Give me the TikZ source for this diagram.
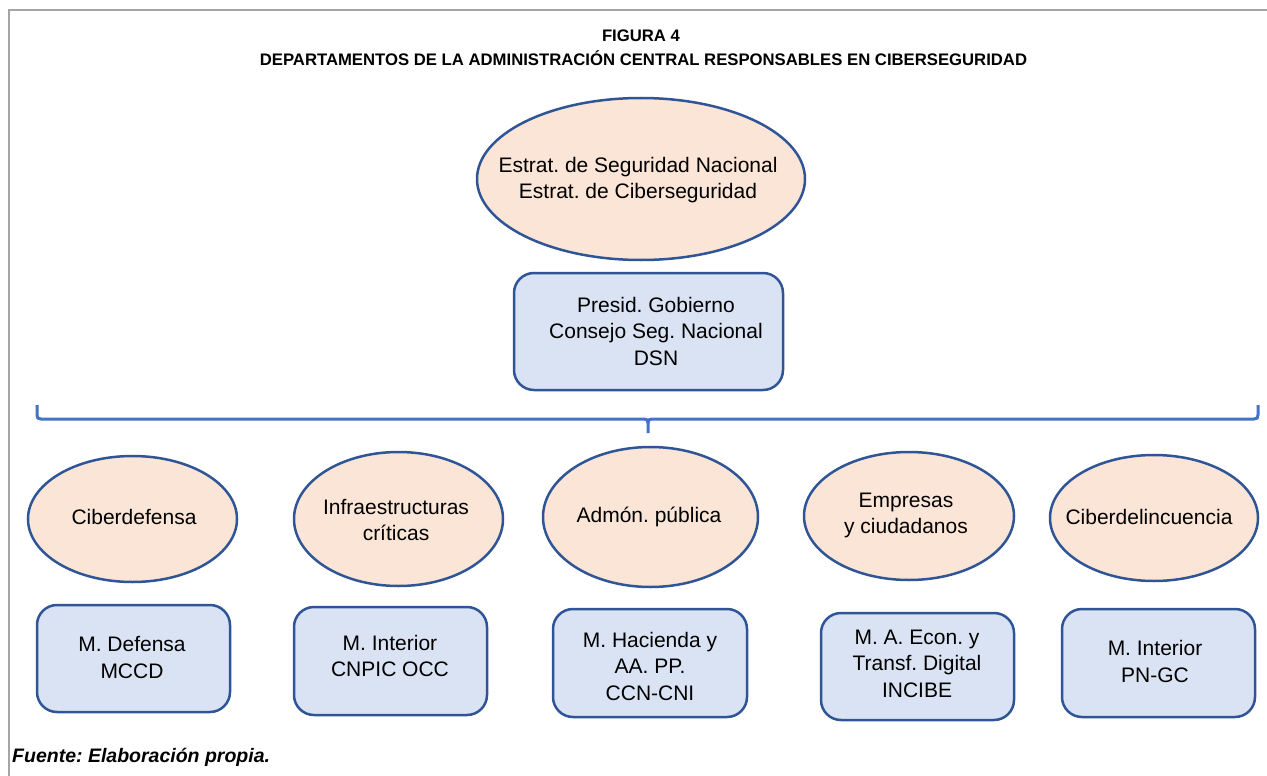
\documentclass[tikz,border=0pt]{standalone}
\usepackage{fontspec}
\setmainfont{Liberation Sans}
\usetikzlibrary{shapes.geometric}
\frenchspacing
\definecolor{bordblue}{RGB}{47,85,151}
\definecolor{braceblue}{RGB}{68,114,196}
\definecolor{peach}{RGB}{251,229,214}
\definecolor{paleblue}{RGB}{218,227,243}
\definecolor{framegray}{RGB}{165,165,165}
\tikzset{
  oval/.style={ellipse, draw=bordblue, fill=peach, line width=2.5pt, inner sep=0pt},
  rbox/.style={rectangle, rounded corners=20pt, draw=bordblue, fill=paleblue, line width=2.5pt,
    inner sep=0pt},
  lbl/.style={inner sep=0pt, align=center, font=\fontsize{21}{26.5}\selectfont},
  titletext/.style={font=\fontsize{16.7}{20}\selectfont\bfseries, inner sep=0pt},
}
\begin{document}
\frenchspacing
\begin{tikzpicture}[x=1pt,y=-1pt]
\useasboundingbox (0,0) rectangle (1267,776);
% frame
\draw[framegray, line width=1.5pt] (9,776) -- (9,10) -- (1267,10);
% titles
\node[titletext] (t1) at (641,36) {FIGURA 4};
\node[titletext] (t2) at (643.5,58) {DEPARTAMENTOS DE LA ADMINISTRACIÓN CENTRAL RESPONSABLES EN CIBERSEGURIDAD};
% top
\node[oval, minimum width=328pt, minimum height=162pt] (estr) at (641,179) {};
\node[lbl] (estrl) at (638,180) {Estrat. de Seguridad Nacional\\Estrat. de Ciberseguridad};
\node[rbox, minimum width=269pt, minimum height=117pt] (pres) at (648.5,331.5) {};
\node[lbl] (presl) at (656,331) {Presid. Gobierno\\Consejo Seg. Nacional\\DSN};
% brace
\draw[braceblue, line width=3pt]
  (37,405) -- (37,415) .. controls (37,418) and (38,419) .. (41,419) -- (644,419)
  .. controls (647,419) and (648,420) .. (648,423) -- (648,433);
\draw[braceblue, line width=3pt]
  (648,423) .. controls (648,420) and (649,419) .. (652,419) -- (1254,419)
  .. controls (1257,419) and (1258,418) .. (1258,415) -- (1258,405);
% ovals
\node[oval, minimum width=209pt, minimum height=126pt] (e1) at (132.5,519) {};
\node[lbl] (e1l) at (134,517) {Ciberdefensa};
\node[oval, minimum width=209pt, minimum height=134pt] (e2) at (398.5,519) {};
\node[lbl] (e2l) at (396,520) {Infraestructuras\\críticas};
\node[oval, minimum width=215pt, minimum height=140pt] (e3) at (650.5,517) {};
\node[lbl] (e3l) at (649,517) {Admón. pública};
\node[oval, minimum width=210pt, minimum height=128pt] (e4) at (909,516) {};
\node[lbl] (e4l) at (906,515.5) {Empresas\\y ciudadanos};
\node[oval, minimum width=208pt, minimum height=126pt] (e5) at (1154,518) {};
\node[lbl] (e5l) at (1149,517) {Ciberdelincuencia};
% boxes
\node[rbox, minimum width=193pt, minimum height=107pt] (b1) at (133.5,658.5) {};
\node[lbl] (b1l) at (132,657.5) {M. Defensa\\MCCD};
\node[rbox, minimum width=193pt, minimum height=108pt] (b2) at (390.5,661) {};
\node[lbl] (b2l) at (390,656) {M. Interior\\CNPIC OCC};
\node[rbox, minimum width=194pt, minimum height=108pt] (b3) at (650,663) {};
\node[lbl] (b3l) at (650,666) {M. Hacienda y\\AA. PP.\\CCN-CNI};
\node[rbox, minimum width=193pt, minimum height=107pt] (b4) at (917.5,666.5) {};
\node[lbl] (b4l) at (917,663.5) {M. A. Econ. y\\Transf. Digital\\INCIBE};
\node[rbox, minimum width=193pt, minimum height=108pt] (b5) at (1158.5,663) {};
\node[lbl] (b5l) at (1155,661.5) {M. Interior\\PN-GC};
% source
\node[anchor=west, inner sep=0pt, font=\fontsize{19.5}{22}\selectfont\bfseries\itshape] (src) at (12,757) {Fuente: Elaboración propia.};
\end{tikzpicture}
\end{document}
